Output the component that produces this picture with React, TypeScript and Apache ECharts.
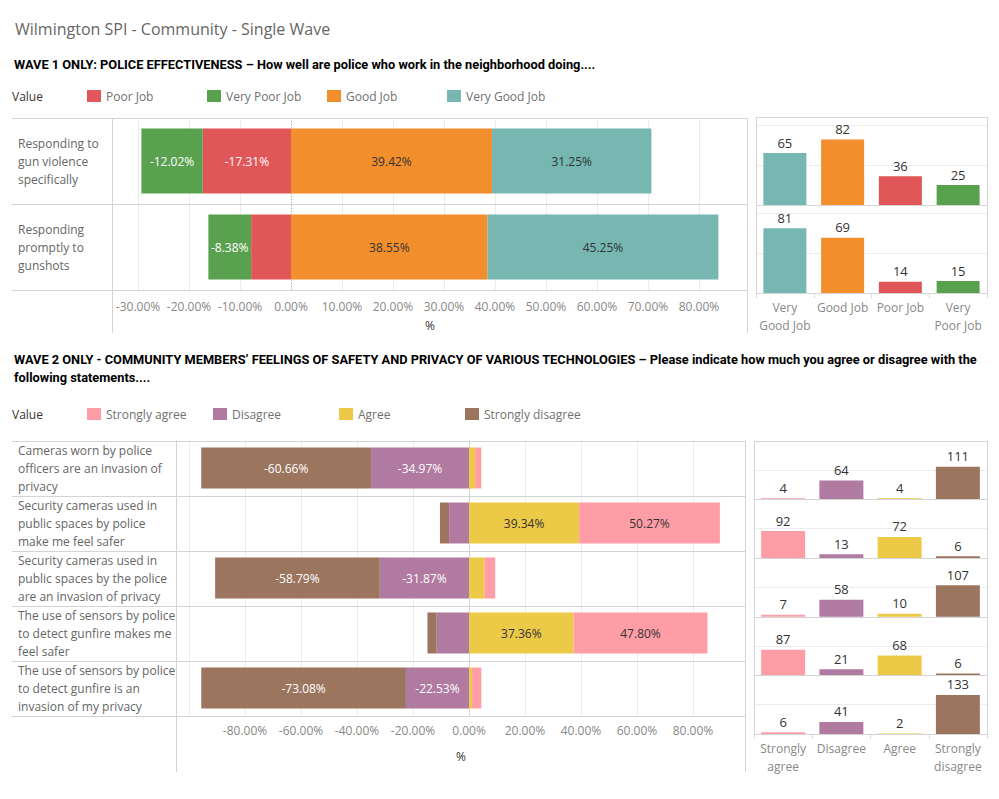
import React, { useEffect, useRef } from "react";
import * as echarts from "echarts";

// ---------------- Data ----------------
const TITLE = "Wilmington SPI - Community - Single Wave";
const WAVE1_HEADING =
  "WAVE 1 ONLY: POLICE EFFECTIVENESS – How well are police who work in the neighborhood doing....";
const WAVE2_HEADING_LINES = [
  "WAVE 2 ONLY - COMMUNITY MEMBERS’ FEELINGS OF SAFETY AND PRIVACY OF VARIOUS TECHNOLOGIES – Please indicate how much you agree or disagree with the",
  "following statements....",
];
const LEGEND_TITLE = "Value";
const AXIS_NAME = "%";

// Wave 1
const WAVE1_LEGEND = ["Poor Job", "Very Poor Job", "Good Job", "Very Good Job"];
const WAVE1_QUESTIONS = [
  "Responding to\ngun violence\nspecifically",
  "Responding\npromptly to\ngunshots",
];
const WAVE1_POOR = [-17.31, -7.82];
const WAVE1_VERY_POOR = [-12.02, -8.38];
const WAVE1_GOOD = [39.42, 38.55];
const WAVE1_VERY_GOOD = [31.25, 45.25];
const WAVE1_COUNT_KEYS = ["Very Good Job", "Good Job", "Poor Job", "Very Poor Job"];
const WAVE1_COUNT_LABELS = ["Very\nGood Job", "Good Job", "Poor Job", "Very\nPoor Job"];
const WAVE1_COUNTS_ROW1 = [65, 82, 36, 25];
const WAVE1_COUNTS_ROW2 = [81, 69, 14, 15];

// Wave 2
const WAVE2_LEGEND = ["Strongly agree", "Disagree", "Agree", "Strongly disagree"];
const WAVE2_STATEMENTS = [
  "Cameras worn by police\nofficers are an invasion of\nprivacy",
  "Security cameras used in\npublic spaces by police\nmake me feel safer",
  "Security cameras used in\npublic spaces by the police\nare an invasion of privacy",
  "The use of sensors by police\nto detect gunfire makes me\nfeel safer",
  "The use of sensors by police\nto detect gunfire is an\ninvasion of my privacy",
];
const WAVE2_DISAGREE = [-34.97, -7.1, -31.87, -11.54, -22.53];
const WAVE2_STRONGLY_DISAGREE = [-60.66, -3.28, -58.79, -3.3, -73.08];
const WAVE2_AGREE = [2.19, 39.34, 5.49, 37.36, 1.1];
const WAVE2_STRONGLY_AGREE = [2.19, 50.27, 3.85, 47.8, 3.3];
const WAVE2_COUNT_KEYS = ["Strongly agree", "Disagree", "Agree", "Strongly disagree"];
const WAVE2_COUNT_LABELS = ["Strongly\nagree", "Disagree", "Agree", "Strongly\ndisagree"];
const WAVE2_COUNTS = [
  [4, 64, 4, 111],
  [92, 13, 72, 6],
  [7, 58, 10, 107],
  [87, 21, 68, 6],
  [6, 41, 2, 133],
];

// ---------------- Styles ----------------
const FONT = "'Open Sans', 'Noto Sans', sans-serif";
const HEAD_FONT = "Roboto, 'Liberation Sans', sans-serif";
const COLORS: Record<string, string> = {
  "Poor Job": "#E15759",
  "Very Poor Job": "#59A14F",
  "Good Job": "#F28E2B",
  "Very Good Job": "#76B7B2",
  "Strongly agree": "#FF9DA7",
  Disagree: "#B07AA1",
  Agree: "#EDC948",
  "Strongly disagree": "#9C755F",
};
const LABEL_COLORS: Record<string, string> = {
  "Poor Job": "#ffffff",
  "Very Poor Job": "#ffffff",
  "Good Job": "#333333",
  "Very Good Job": "#333333",
  "Strongly agree": "#333333",
  Disagree: "#ffffff",
  Agree: "#333333",
  "Strongly disagree": "#ffffff",
};
const FRAME = "#d4d4d4";
const GRIDLINE = "#ececec";

// layout
const L1 = { left: 112, right: 748, top: 118, bottom: 290, zero: 291, pxPer: 5.1, ext: 333 };
const R1 = { left: 756, right: 987, top: 117, bottom: 293 };
const L2 = { left: 176, right: 746, top: 440.5, bottom: 715.5, zero: 469, pxPer: 2.8, ext: 772 };
const R2 = { left: 754, right: 987, top: 440.7, bottom: 734 };
const LEG1 = { y: 96, x0: 87, step: 120 };
const LEG2 = { y: 414, x0: 87, step: 126 };

const pct = (v: number) => `${v.toFixed(2)}%`;

function hline(x1: number, x2: number, y: number) {
  const yy = Math.round(y) + 0.5;
  return { type: "line", silent: true, z: 50, shape: { x1, y1: yy, x2, y2: yy }, style: { stroke: FRAME, lineWidth: 1 } };
}
function vline(x: number, y1: number, y2: number) {
  const xx = Math.round(x) + 0.5;
  return { type: "line", silent: true, z: 50, shape: { x1: xx, y1, x2: xx, y2 }, style: { stroke: FRAME, lineWidth: 1 } };
}

function buildOption() {
  const grid: any[] = [];
  const xAxis: any[] = [];
  const yAxis: any[] = [];
  const series: any[] = [];
  const graphic: any[] = [];

  const divergingAxis = (gi: number, L: typeof L1, step: number, nameGap: number, labelMargin: number, hideBelow: number) => {
    grid.push({ left: L.left, top: L.top, width: L.right - L.left, height: L.bottom - L.top });
    xAxis.push({
      gridIndex: gi,
      type: "value",
      min: +((L.left - L.zero) / L.pxPer).toFixed(2),
      max: +((L.right - L.zero) / L.pxPer).toFixed(2),
      minInterval: step,
      maxInterval: step,
      axisLine: { show: false },
      axisTick: { show: false },
      axisLabel: {
        showMinLabel: false,
        showMaxLabel: false,
        color: "#888",
        fontSize: 12,
        fontFamily: FONT,
        lineHeight: 14,
        margin: labelMargin,
        formatter: (v: number) => (v <= hideBelow ? "" : pct(v)),
      },
      splitLine: { show: true, showMinLine: false, showMaxLine: false, lineStyle: { color: GRIDLINE, width: 1 } },
      name: AXIS_NAME,
      nameLocation: "middle",
      nameGap,
      nameTextStyle: { color: "#333", fontSize: 12, fontFamily: FONT, lineHeight: 14 },
    });
  };

  // ---- Wave 1 diverging ----
  divergingAxis(0, L1, 10, 28, 9, -1000);
  yAxis.push({
    gridIndex: 0,
    type: "category",
    inverse: true,
    data: WAVE1_QUESTIONS,
    axisLine: { show: false },
    axisTick: { show: false },
    splitLine: { show: false },
    axisLabel: { interval: 0, align: "left", margin: L1.left - 18, color: "#666", fontSize: 12, fontFamily: FONT, lineHeight: 18 },
  });
  const w1Series: [string, number[]][] = [
    ["Poor Job", WAVE1_POOR],
    ["Very Poor Job", WAVE1_VERY_POOR],
    ["Good Job", WAVE1_GOOD],
    ["Very Good Job", WAVE1_VERY_GOOD],
  ];
  w1Series.forEach(([name, vals]) => {
    series.push({
      name,
      type: "bar",
      xAxisIndex: 0,
      yAxisIndex: 0,
      stack: "w1",
      barWidth: 65,
      z: 3,
      itemStyle: { color: COLORS[name] },
      label: {
        show: true,
        position: "inside",
        color: LABEL_COLORS[name],
        fontSize: 12,
        fontFamily: FONT,
        formatter: (p: any) => (Math.abs(p.value) >= 8 ? pct(p.value) : ""),
      },
      data: vals,
    });
  });
  series.push({
    type: "line",
    xAxisIndex: 0,
    yAxisIndex: 0,
    data: [],
    z: 1,
    markLine: {
      z: 1,
      silent: true,
      symbol: "none",
      label: { show: false },
      lineStyle: { type: [1, 2], color: "#aaa", width: 1 },
      data: [{ xAxis: 0 }],
    },
  });

  // ---- Wave 1 counts ----
  const w1Rows = [WAVE1_COUNTS_ROW1, WAVE1_COUNTS_ROW2];
  const r1h = (R1.bottom - R1.top) / w1Rows.length;
  w1Rows.forEach((row, i) => {
    const gi = grid.length;
    const last = i === w1Rows.length - 1;
    grid.push({ left: R1.left, top: R1.top + i * r1h, width: R1.right - R1.left, height: r1h });
    xAxis.push({
      gridIndex: gi,
      type: "category",
      data: WAVE1_COUNT_LABELS,
      axisLine: { show: false },
      axisTick: { show: last, length: 5, lineStyle: { color: "#ddd" } },
      axisLabel: { show: last, interval: 0, color: "#888", fontSize: 12, fontFamily: FONT, lineHeight: 18, margin: 5 },
    });
    yAxis.push({
      gridIndex: gi,
      type: "value",
      min: 0,
      max: 110,
      interval: 50,
      axisLine: { show: false },
      axisTick: { show: false },
      axisLabel: { show: false },
      splitLine: { show: true, showMinLine: false, showMaxLine: false, lineStyle: { color: GRIDLINE } },
    });
    series.push({
      name: "Wave 1 count " + (i + 1),
      type: "bar",
      xAxisIndex: gi,
      yAxisIndex: gi,
      barWidth: 43,
      label: { show: true, position: "top", distance: 4, color: "#333", fontSize: 13, fontFamily: FONT },
      data: row.map((v, j) => ({ value: v, itemStyle: { color: COLORS[WAVE1_COUNT_KEYS[j]] } })),
    });
  });

  // ---- Wave 2 diverging ----
  const g2 = grid.length;
  divergingAxis(g2, L2, 20, 34, 8, -100);
  yAxis.push({
    gridIndex: g2,
    type: "category",
    inverse: true,
    data: WAVE2_STATEMENTS,
    axisLine: { show: false },
    axisTick: { show: false },
    splitLine: { show: false },
    axisLabel: { interval: 0, align: "left", margin: L2.left - 18, color: "#666", fontSize: 12, fontFamily: FONT, lineHeight: 18 },
  });
  const w2Series: [string, number[]][] = [
    ["Disagree", WAVE2_DISAGREE],
    ["Strongly disagree", WAVE2_STRONGLY_DISAGREE],
    ["Agree", WAVE2_AGREE],
    ["Strongly agree", WAVE2_STRONGLY_AGREE],
  ];
  w2Series.forEach(([name, vals]) => {
    series.push({
      name,
      type: "bar",
      xAxisIndex: g2,
      yAxisIndex: g2,
      stack: "w2",
      barWidth: 41,
      z: 3,
      itemStyle: { color: COLORS[name] },
      label: {
        show: true,
        position: "inside",
        color: LABEL_COLORS[name],
        fontSize: 12,
        fontFamily: FONT,
        formatter: (p: any) => (Math.abs(p.value) >= 15 ? pct(p.value) : ""),
      },
      data: vals,
    });
  });
  series.push({
    type: "line",
    xAxisIndex: g2,
    yAxisIndex: g2,
    data: [],
    z: 1,
    markLine: {
      z: 1,
      silent: true,
      symbol: "none",
      label: { show: false },
      lineStyle: { type: [1, 2], color: "#aaa", width: 1 },
      data: [{ xAxis: 0 }],
    },
  });

  // ---- Wave 2 counts ----
  const r2h = (R2.bottom - R2.top) / WAVE2_COUNTS.length;
  WAVE2_COUNTS.forEach((row, i) => {
    const gi = grid.length;
    const last = i === WAVE2_COUNTS.length - 1;
    grid.push({ left: R2.left, top: R2.top + i * r2h, width: R2.right - R2.left, height: r2h });
    xAxis.push({
      gridIndex: gi,
      type: "category",
      data: WAVE2_COUNT_LABELS,
      axisLine: { show: false },
      axisTick: { show: last, length: 5, lineStyle: { color: "#ddd" } },
      axisLabel: { show: last, interval: 0, color: "#888", fontSize: 12, fontFamily: FONT, lineHeight: 18, margin: 5 },
    });
    yAxis.push({
      gridIndex: gi,
      type: "value",
      min: 0,
      max: 200,
      interval: 100,
      axisLine: { show: false },
      axisTick: { show: false },
      axisLabel: { show: false },
      splitLine: { show: true, showMinLine: false, showMaxLine: false, lineStyle: { color: GRIDLINE } },
    });
    series.push({
      name: "Wave 2 count " + (i + 1),
      type: "bar",
      xAxisIndex: gi,
      yAxisIndex: gi,
      barWidth: 44,
      label: { show: true, position: "top", distance: 4, color: "#333", fontSize: 13, fontFamily: FONT },
      data: row.map((v, j) => ({ value: v, itemStyle: { color: COLORS[WAVE2_COUNT_KEYS[j]] } })),
    });
  });

  // ---- Frames ----
  const rows1 = WAVE1_QUESTIONS.length;
  for (let k = 0; k <= rows1; k++) {
    graphic.push(hline(12, L1.right, L1.top + ((L1.bottom - L1.top) * k) / rows1));
  }
  graphic.push(vline(L1.left, L1.top, L1.ext));
  graphic.push(vline(L1.right - 1, L1.top, L1.ext));
  for (let k = 0; k <= w1Rows.length; k++) graphic.push(hline(R1.left, R1.right, R1.top + k * r1h));
  graphic.push(vline(R1.left, R1.top, R1.bottom));
  graphic.push(vline(R1.right, R1.top, R1.bottom));

  const rows2 = WAVE2_STATEMENTS.length;
  for (let k = 0; k <= rows2; k++) {
    graphic.push(hline(12, L2.right, L2.top + ((L2.bottom - L2.top) * k) / rows2));
  }
  graphic.push(vline(L2.left, L2.top, L2.ext));
  graphic.push(vline(L2.right - 1, L2.top, L2.ext));
  for (let k = 0; k <= WAVE2_COUNTS.length; k++) graphic.push(hline(R2.left, R2.right, R2.top + k * r2h));
  graphic.push(vline(R2.left, R2.top, R2.bottom));
  graphic.push(vline(R2.right, R2.top, R2.bottom));

  // ---- Texts ----
  graphic.push({
    type: "text",
    x: 15,
    y: 29,
    style: { text: TITLE, fontSize: 16, fontFamily: FONT, fill: "#666", verticalAlign: "middle" },
  });
  graphic.push({
    type: "text",
    x: 14,
    y: 64,
    style: { text: WAVE1_HEADING, fontSize: 12.8, fontWeight: "bold", fontFamily: HEAD_FONT, fill: "#000", verticalAlign: "middle" },
  });
  WAVE2_HEADING_LINES.forEach((t, i) => {
    graphic.push({
      type: "text",
      x: 14,
      y: 359 + i * 18,
      style: { text: t, fontSize: 12.8, fontWeight: "bold", fontFamily: HEAD_FONT, fill: "#000", verticalAlign: "middle" },
    });
  });

  // ---- Legends ----
  const legend = (names: string[], L: typeof LEG1) => {
    graphic.push({
      type: "text",
      x: 12,
      y: L.y,
      style: { text: LEGEND_TITLE, fontSize: 12, fontFamily: FONT, fill: "#333", verticalAlign: "middle" },
    });
    names.forEach((n, i) => {
      const x = L.x0 + i * L.step;
      graphic.push({ type: "rect", silent: true, shape: { x, y: L.y - 6, width: 14, height: 12 }, style: { fill: COLORS[n] } });
      graphic.push({
        type: "text",
        x: x + 19,
        y: L.y,
        style: { text: n, fontSize: 12, fontFamily: FONT, fill: "#707070", verticalAlign: "middle" },
      });
    });
  };
  legend(WAVE1_LEGEND, LEG1);
  legend(WAVE2_LEGEND, LEG2);

  return {
    animation: false,
    backgroundColor: "#ffffff",
    textStyle: { fontFamily: FONT },
    grid,
    xAxis,
    yAxis,
    series,
    graphic,
  };
}

export default function App() {
  const ref = useRef<HTMLDivElement>(null);
  useEffect(() => {
    if (!ref.current) return;
    const chart = echarts.init(ref.current, null, { renderer: "svg" });
    chart.setOption(buildOption() as any);
    return () => chart.dispose();
  }, []);
  return (
    <div
      ref={ref}
      style={{ position: "absolute", left: 0, top: 0, width: 999, height: 799, background: "#ffffff" }}
    />
  );
}
